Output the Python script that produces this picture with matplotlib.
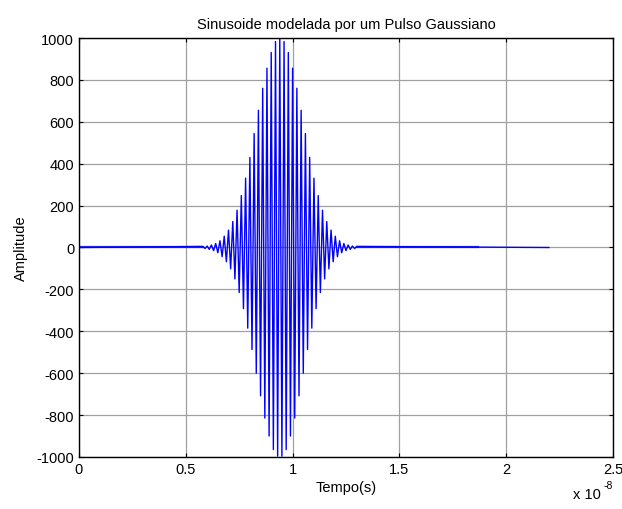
import numpy as np
import matplotlib.pyplot as plt

plt.rcParams['font.family'] = ['Liberation Sans', 'DejaVu Sans']
plt.rcParams['axes.unicode_minus'] = False

# time of each crest/trough of the pulse, in units of 1e-8 s
peak_t = [0.58, 0.59, 0.60, 0.61, 0.62, 0.63, 0.64, 0.65, 0.66, 0.67,
          0.68, 0.69, 0.70, 0.71, 0.72, 0.73, 0.74, 0.75, 0.76, 0.77,
          0.78, 0.79, 0.80, 0.81, 0.82, 0.83, 0.84, 0.85, 0.86, 0.87,
          0.88, 0.89, 0.90, 0.91, 0.92, 0.93, 0.94, 0.95, 0.96, 0.97,
          0.98, 0.99, 1.00, 1.01, 1.02, 1.03, 1.04, 1.05, 1.06, 1.07,
          1.08, 1.09, 1.10, 1.11, 1.12, 1.13, 1.14, 1.15, 1.16, 1.17,
          1.18, 1.19, 1.20, 1.21, 1.22, 1.23, 1.24, 1.25, 1.26, 1.27,
          1.28, 1.29, 1.30]
peak_v = [5, -5, 7, -9, 12, -15, 19, -25, 32, -44,
          54, -68, 83, -102, 124, -150, 178, -215, 248, -292,
          331, -385, 430, -487, 544, -600, 655, -708, 760, -814,
          856, -900, 931, -965, 983, -996, 999, -996, 983, -965,
          931, -900, 856, -814, 760, -708, 655, -600, 544, -487,
          430, -385, 331, -292, 248, -215, 178, -150, 124, -102,
          83, -68, 54, -44, 32, -25, 19, -15, 12, -9,
          7, -5, 5]

t_start = 0.0
ripple_end = 1.87
t_end = 2.2

t = [t_start] + peak_t + [t_end]
v = [0] + peak_v + [0]

fig = plt.figure(figsize=(6.22, 5.10), dpi=100)
ax = fig.add_axes([0.127, 0.102, 0.8585, 0.8215])

# low-level ripple on the baseline before and after the pulse
ax.plot([t_start, peak_t[0]], [0, 0], c='b', lw=1.6, alpha=0.8)
ax.plot([peak_t[-1], ripple_end], [0, 0], c='b', lw=1.6, alpha=0.8)
ax.plot(t, v, c='b', lw=1.0)

ax.set_xlim(0, 2.5)
ax.set_ylim(-1000, 1000)
ax.set_xticks([0, 0.5, 1, 1.5, 2, 2.5])
ax.set_xticklabels(['0', '0.5', '1', '1.5', '2', '2.5'])
ax.set_yticks(np.arange(-1000, 1001, 200))
ax.tick_params(direction='in', length=3, top=True, right=True, labelsize=10.5, width=0.8)
ax.grid(True, color='#a0a0a0', lw=0.9)
for s in ax.spines.values():
    s.set_linewidth(1.0)

ax.set_title('Sinusoide modelada por um Pulso Gaussiano', fontsize=10.5, pad=7)
ax.set_xlabel('Tempo(s)', fontsize=10.5, labelpad=3)
ax.set_ylabel('Amplitude', fontsize=10.5, labelpad=6)

# exponent of the time axis, written the old way: "x 10" plus a raised "-8"
fig.text(0.921, 0.015, 'x 10', fontsize=10.5, ha='left', va='bottom')
fig.text(0.971, 0.038, '-8', fontsize=7.5, ha='left', va='bottom')

plt.savefig('out.png', dpi=100)
